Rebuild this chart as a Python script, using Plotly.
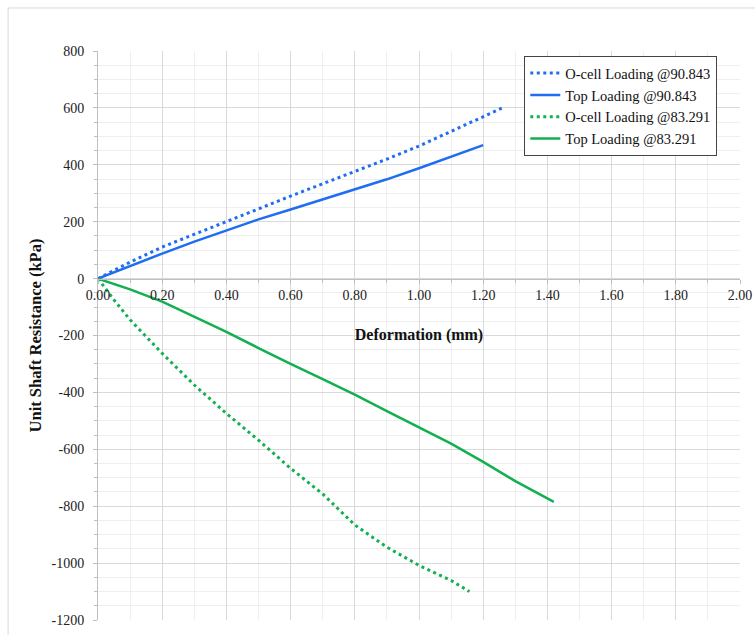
import plotly.graph_objects as go

# Load-deformation curves (deformation in mm, unit shaft resistance in kPa)
ocell_90_x = [0.0, 0.1, 0.2, 0.3, 0.4, 0.5, 0.6, 0.7, 0.8, 0.9, 1.0, 1.1, 1.2, 1.26]
ocell_90_y = [0, 58, 111, 155, 199, 245, 290, 333, 376, 420, 466, 517, 568, 600]

top_90_x = [0.0, 0.1, 0.2, 0.3, 0.4, 0.5, 0.6, 0.7, 0.8, 0.9, 1.0, 1.1, 1.2]
top_90_y = [0, 45, 88, 130, 170, 208, 243, 278, 312, 349, 388, 428, 469]

ocell_83_x = [0.0, 0.05, 0.1, 0.2, 0.3, 0.4, 0.5, 0.6, 0.7, 0.8, 0.9, 1.0, 1.1, 1.157]
ocell_83_y = [0, -75, -145, -263, -374, -474, -568, -667, -757, -866, -944, -1008, -1061, -1100]

top_83_x = [0.0, 0.1, 0.2, 0.3, 0.4, 0.5, 0.6, 0.7, 0.8, 0.9, 1.0, 1.1, 1.2, 1.3, 1.42]
top_83_y = [0, -38, -81, -133, -187, -244, -300, -353, -408, -466, -522, -580, -644, -712, -785]

series_names = [
    "O-cell Loading @90.843",
    "Top Loading @90.843",
    "O-cell Loading @83.291",
    "Top Loading @83.291",
]

x_ticks = [0.0, 0.2, 0.4, 0.6, 0.8, 1.0, 1.2, 1.4, 1.6, 1.8, 2.0]
y_ticks = [800, 600, 400, 200, 0, -200, -400, -600, -800, -1000, -1200]

BLUE = "#1F6EF2"
GREEN = "#12B050"
SERIF = "Liberation Serif"
DOTS = "3px,3.5px"

fig = go.Figure()
fig.add_trace(go.Scatter(x=ocell_90_x, y=ocell_90_y, mode="lines", name=series_names[0],
                         line=dict(color=BLUE, width=3, dash=DOTS)))
fig.add_trace(go.Scatter(x=top_90_x, y=top_90_y, mode="lines", name=series_names[1],
                         line=dict(color=BLUE, width=2.5)))
fig.add_trace(go.Scatter(x=ocell_83_x, y=ocell_83_y, mode="lines", name=series_names[2],
                         line=dict(color=GREEN, width=3, dash=DOTS)))
fig.add_trace(go.Scatter(x=top_83_x, y=top_83_y, mode="lines", name=series_names[3],
                         line=dict(color=GREEN, width=2.5)))

fig.update_layout(
    width=755,
    height=635,
    margin=dict(l=98, r=15, t=51, b=15, autoexpand=False),
    paper_bgcolor="white",
    plot_bgcolor="white",
    font=dict(family=SERIF, size=14, color="#222222"),
    showlegend=True,
    legend=dict(
        x=0.664, y=0.991, xanchor="left", yanchor="top",
        bgcolor="white", bordercolor="#444444", borderwidth=1,
        font=dict(family=SERIF, size=14.5, color="#111111"),
        tracegroupgap=0, itemwidth=30,
    ),
    xaxis=dict(
        range=[0, 2.0],
        tickvals=x_ticks,
        ticktext=[f"{v:.2f}" for v in x_ticks],
        anchor="free",
        position=0.6,
        automargin=False,
        showline=True, linecolor="#BFBFBF", linewidth=1,
        zeroline=False,
        showgrid=True, gridcolor="#D9D9D9", gridwidth=1,
        minor=dict(dtick=0.1, tick0=0, showgrid=True, gridcolor="#EFEFEF",
                   ticks="outside", ticklen=3, tickcolor="#BFBFBF"),
        ticks="outside", ticklen=4, tickcolor="#BFBFBF",
        tickfont=dict(family=SERIF, size=14, color="#222222"),
        title=dict(text="<b>Deformation (mm)</b>", standoff=26,
                   font=dict(family=SERIF, size=16, color="#111111")),
    ),
    yaxis=dict(
        range=[-1200, 800],
        tickvals=y_ticks,
        ticktext=[str(v) for v in y_ticks],
        automargin=False,
        showline=True, linecolor="#BFBFBF", linewidth=1,
        zeroline=False,
        showgrid=True, gridcolor="#D9D9D9", gridwidth=1,
        minor=dict(dtick=50, tick0=0, showgrid=True, gridcolor="#EFEFEF",
                   ticks="outside", ticklen=3, tickcolor="#BFBFBF"),
        ticks="outside", ticklen=4, tickcolor="#BFBFBF",
        ticklabelstandoff=6,
        tickfont=dict(family=SERIF, size=14, color="#222222"),
        title=dict(text="<b>Unit Shaft Resistance (kPa)</b>", standoff=5,
                   font=dict(family=SERIF, size=16.5, color="#111111")),
    ),
    shapes=[
        dict(type="rect", xref="paper", yref="paper",
             x0=-0.140, x1=1.031, y0=-0.035, y1=1.0756,
             line=dict(color="#D9D9D9", width=1), fillcolor="rgba(0,0,0,0)", layer="below"),
    ],
)

fig.write_html("out.html")
